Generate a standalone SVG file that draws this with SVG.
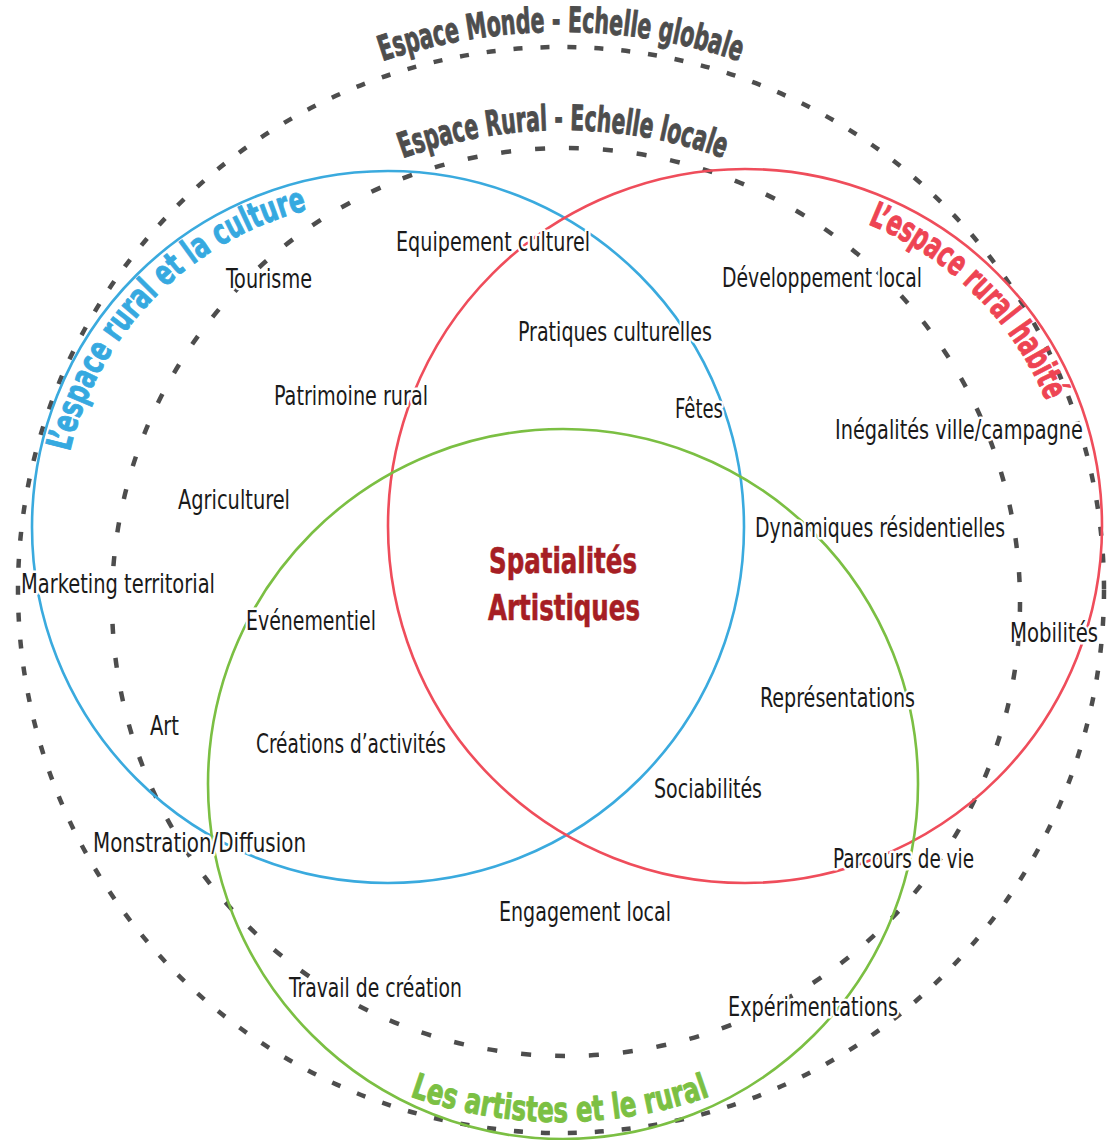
<svg xmlns="http://www.w3.org/2000/svg" width="1107" height="1140" viewBox="0 0 1107 1140">
<style>
  .bg { fill: #ffffff; }
  .dash-outer { fill: none; stroke: #4d4d4d; stroke-width: 4.5; stroke-dasharray: 9 18; }
  .dash-inner { fill: none; stroke: #4d4d4d; stroke-width: 4.5; stroke-dasharray: 10 24; }
  .ring { fill: none; stroke-width: 2.6; }
  .blue { stroke: #3aaade; }
  .red { stroke: #ef4d5b; }
  .green { stroke: #7bbf43; }
  .title { font-family: "Liberation Sans Narrow", "DejaVu Sans Condensed", "Roboto Condensed", "Liberation Sans", sans-serif; font-stretch: condensed; font-weight: bold; font-size: 35px; stroke-width: 0.9; stroke-linejoin: round; }
  .t-gray { fill: #4d4d4d; stroke: #4d4d4d; }
  .t-blue { fill: #36a9e0; stroke: #36a9e0; }
  .t-red { fill: #ee4453; stroke: #ee4453; }
  .t-green { fill: #7bc043; stroke: #7bc043; }
  .lbl { font-family: "Liberation Sans Narrow", "DejaVu Sans Condensed", "Roboto Condensed", "Liberation Sans", sans-serif; font-stretch: condensed; font-size: 26px; fill: #1a1a1a; stroke: #ffffff; stroke-width: 5; stroke-linejoin: round; paint-order: stroke; }
  .centre { font-family: "Liberation Sans Narrow", "DejaVu Sans Condensed", "Roboto Condensed", "Liberation Sans", sans-serif; font-stretch: condensed; font-weight: bold; font-size: 35px; fill: #a61e24; stroke: #a61e24; stroke-width: 0.6; }
</style>
<defs>
  <path id="arc-monde" d="M 202.3 162.5 A 558 558 0 0 1 919.7 162.5"/>
  <path id="arc-rural" d="M 260.9 240 A 470 470 0 0 1 865.1 240"/>
  <path id="arc-culture" d="M 62.5 558.3 A 327 327 0 0 1 413.7 201.0"/>
  <path id="arc-habite" d="M 715.5 201.3 A 326 326 0 0 1 1069.9 553.3"/>
  <path id="arc-artistes" d="M 335 1061.7 A 450 450 0 0 0 785 1061.7"/>
</defs>
<rect class="bg" x="0" y="0" width="1107" height="1140"/>

<g id="espace-monde">
  <circle class="dash-outer" cx="561" cy="590" r="543"/>
  <text class="title t-gray"><textPath href="#arc-monde" startOffset="50%" text-anchor="middle" textLength="363" lengthAdjust="spacingAndGlyphs">Espace Monde - Echelle globale</textPath></text>
</g>

<g id="espace-rural">
  <circle class="dash-inner" cx="566" cy="602" r="454"/>
  <text class="title t-gray"><textPath href="#arc-rural" startOffset="50%" text-anchor="middle" textLength="327" lengthAdjust="spacingAndGlyphs">Espace Rural - Echelle locale</textPath></text>
</g>

<g id="rural-culture">
  <circle class="ring blue" cx="388" cy="527" r="356"/>
  <text class="title t-blue"><textPath href="#arc-culture" startOffset="50%" text-anchor="middle" textLength="356" lengthAdjust="spacingAndGlyphs">L’espace rural et la culture</textPath></text>
</g>

<g id="rural-habite">
  <circle class="ring red" cx="745" cy="526" r="357"/>
  <text class="title t-red"><textPath href="#arc-habite" startOffset="50%" text-anchor="middle" textLength="258" lengthAdjust="spacingAndGlyphs">L’espace rural habité</textPath></text>
</g>

<g id="artistes-rural">
  <circle class="ring green" cx="563" cy="784" r="355"/>
  <text class="title t-green"><textPath href="#arc-artistes" startOffset="50%" text-anchor="middle" textLength="306" lengthAdjust="spacingAndGlyphs">Les artistes et le rural</textPath></text>
</g>

<g id="connectors"></g>

<g id="spatialites-artistiques">
  <text class="centre" x="489" y="573" textLength="148" lengthAdjust="spacingAndGlyphs">Spatialités</text>
  <text class="centre" x="488" y="620" textLength="152" lengthAdjust="spacingAndGlyphs">Artistiques</text>
</g>

<g id="labels">
  <g id="l-equipement"><text class="lbl" x="396" y="251" textLength="194" lengthAdjust="spacingAndGlyphs">Equipement culturel</text></g>
  <g id="l-tourisme"><text class="lbl" x="226" y="288" textLength="86" lengthAdjust="spacingAndGlyphs">Tourisme</text></g>
  <g id="l-developpement"><text class="lbl" x="722" y="287" textLength="200" lengthAdjust="spacingAndGlyphs">Développement local</text></g>
  <g id="l-pratiques"><text class="lbl" x="518" y="341" textLength="194" lengthAdjust="spacingAndGlyphs">Pratiques culturelles</text></g>
  <g id="l-patrimoine"><text class="lbl" x="274" y="405" textLength="154" lengthAdjust="spacingAndGlyphs">Patrimoine rural</text></g>
  <g id="l-fetes"><text class="lbl" x="675" y="418" textLength="48" lengthAdjust="spacingAndGlyphs">Fêtes</text></g>
  <g id="l-inegalites"><text class="lbl" x="835" y="439" textLength="248" lengthAdjust="spacingAndGlyphs">Inégalités ville/campagne</text></g>
  <g id="l-agriculturel"><text class="lbl" x="178" y="509" textLength="112" lengthAdjust="spacingAndGlyphs">Agriculturel</text></g>
  <g id="l-dynamiques"><text class="lbl" x="755" y="537" textLength="250" lengthAdjust="spacingAndGlyphs">Dynamiques résidentielles</text></g>
  <g id="l-marketing"><text class="lbl" x="21" y="593" textLength="194" lengthAdjust="spacingAndGlyphs">Marketing territorial</text></g>
  <g id="l-evenementiel"><text class="lbl" x="246" y="630" textLength="130" lengthAdjust="spacingAndGlyphs">Evénementiel</text></g>
  <g id="l-mobilites"><text class="lbl" x="1010" y="642" textLength="88" lengthAdjust="spacingAndGlyphs">Mobilités</text></g>
  <g id="l-representations"><text class="lbl" x="760" y="707" textLength="155" lengthAdjust="spacingAndGlyphs">Représentations</text></g>
  <g id="l-art"><text class="lbl" x="150" y="735" textLength="29" lengthAdjust="spacingAndGlyphs">Art</text></g>
  <g id="l-creations"><text class="lbl" x="256" y="753" textLength="190" lengthAdjust="spacingAndGlyphs">Créations d’activités</text></g>
  <g id="l-sociabilites"><text class="lbl" x="654" y="798" textLength="108" lengthAdjust="spacingAndGlyphs">Sociabilités</text></g>
  <g id="l-monstration"><text class="lbl" x="93" y="852" textLength="213" lengthAdjust="spacingAndGlyphs">Monstration/Diffusion</text></g>
  <g id="l-parcours"><text class="lbl" x="833" y="868" textLength="141" lengthAdjust="spacingAndGlyphs">Parcours de vie</text></g>
  <g id="l-engagement"><text class="lbl" x="499" y="921" textLength="172" lengthAdjust="spacingAndGlyphs">Engagement local</text></g>
  <g id="l-travail"><text class="lbl" x="289" y="997" textLength="173" lengthAdjust="spacingAndGlyphs">Travail de création</text></g>
  <g id="l-experimentations"><text class="lbl" x="728" y="1016" textLength="170" lengthAdjust="spacingAndGlyphs">Expérimentations</text></g>
</g>
</svg>
